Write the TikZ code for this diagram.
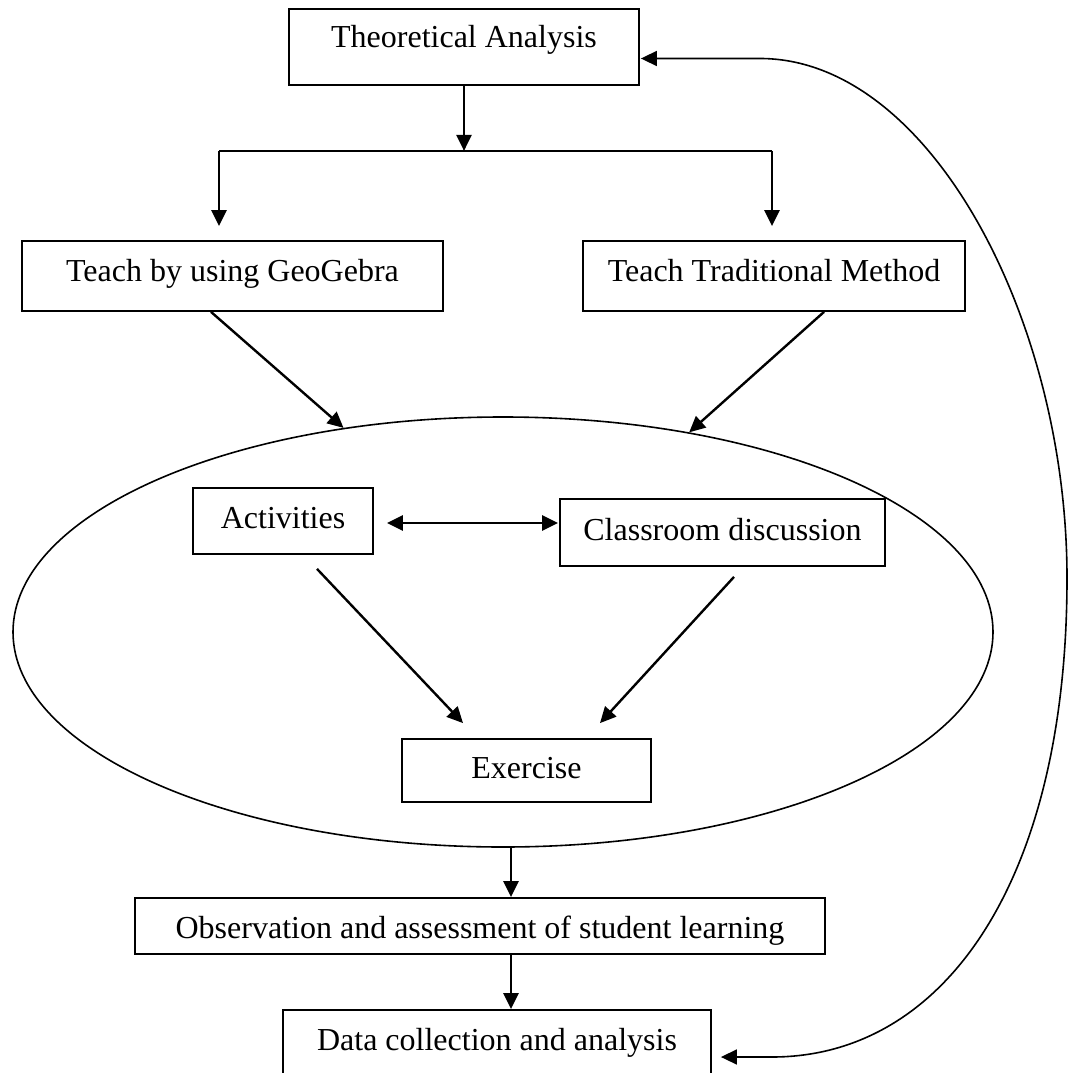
\documentclass[tikz,border=0pt]{standalone}
\usepackage{fontspec}
\setmainfont{Liberation Serif}
\usetikzlibrary{arrows.meta,shapes.geometric,calc}
\begin{document}
\begin{tikzpicture}[x=1pt,y=-1pt,
  box/.style={draw,line width=1.8pt,rectangle,inner sep=0pt,text height=30pt,
    font=\fontsize{32}{38}\selectfont},
  tip/.tip={Triangle[length=16pt,width=15pt]},
  arr/.style={-tip,line width=2.4pt},
  arrboth/.style={tip-tip,line width=2.4pt},
  thinline/.style={line width=1.6pt},
  loopline/.style={tip-tip,line width=1.6pt}]
\clip (0,0) rectangle (1069,1073);
\fill[white] (0,0) rectangle (1069,1073);

\node[box,minimum width=350pt,minimum height=76pt,text depth=28pt] (theo) at (464,47) {Theoretical Analysis};
\node[box,minimum width=421pt,minimum height=70pt,text depth=20pt] (geo) at (232.5,276) {Teach by using GeoGebra};
\node[box,minimum width=382pt,minimum height=70pt,text depth=20pt] (trad) at (774,276) {Teach Traditional Method};
\node[draw,ellipse,line width=1.6pt,minimum width=980pt,minimum height=430pt,inner sep=0pt] (cyc) at (503,632) {};
\node[box,minimum width=180pt,minimum height=66pt,text depth=16pt] (act) at (283,521) {Activities};
\node[box,minimum width=325pt,minimum height=67pt,text depth=15pt] (class) at (722.5,532.5) {Classroom discussion};
\node[box,minimum width=249pt,minimum height=63pt,text depth=15pt] (exer) at (526.5,770.5) {Exercise};
\node[box,minimum width=690pt,minimum height=56pt,text depth=6pt] (obs) at (480,926) {Observation and assessment of student learning};
\node[box,minimum width=428pt,minimum height=90pt,text depth=40pt] (data) at (497,1055) {Data collection and analysis};

\coordinate (split) at ($(theo.south)+(0,65)$);
\coordinate (lft) at ($(split)+(-245,0)$);
\coordinate (rgt) at ($(split)+(308,0)$);
\draw[arr] (theo.south) -- (split);
\draw[thinline] (lft) -- (rgt);
\draw[arr,shorten >=14pt] (lft) -- (lft |- geo.north);
\draw[arr,shorten >=14pt] (rgt) -- (rgt |- trad.north);

\draw[arr] ($(geo.south)+(-21.5,0)$) -- (cyc.128.4);
\draw[arr] ($(trad.south)+(50,0)$) -- (cyc.47.1);

\draw[arrboth] ($(act.east)+(13,2)$) -- ($(class.west)+(-1,-9.5)$);
\draw[arr] ($(act.south)+(34,14)$) -- ($(exer.north)+(-63.5,-15)$);
\draw[arr] ($(class.south)+(11.5,10)$) -- ($(exer.north)+(73.5,-15)$);

\draw[arr] ($(cyc.south)+(8,0)$) -- ($(obs.north)+(31,0)$);
\draw[arr] ($(obs.south)+(31,0)$) -- ($(data.north)+(14,0)$);

\coordinate (c1) at (760,58.5);
\coordinate (c2) at (1067,578);
\coordinate (c3) at (772,1057);
\draw[loopline] ($(theo.east)+(1,11.5)$) -- (c1)
  .. controls (930,58.5) and (1067,320) .. (c2)
  .. controls (1067,880) and (945,1057) .. (c3)
  -- ($(data.east)+(9,2)$);
\end{tikzpicture}
\end{document}
